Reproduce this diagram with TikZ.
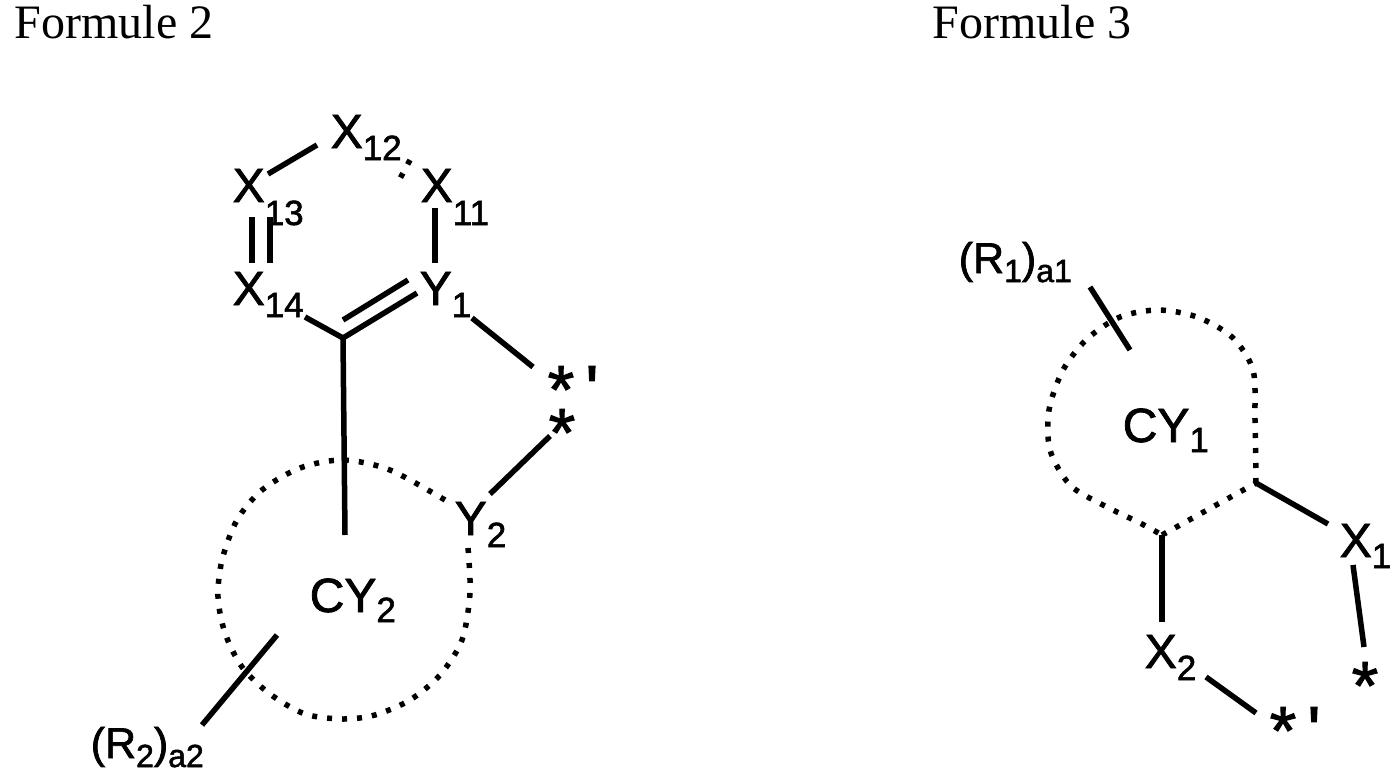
\documentclass[tikz,border=0pt]{standalone}
\usepackage{fontspec}
\setmainfont[AutoFakeBold=1.6]{Liberation Sans}
\newfontfamily\titlefont{Liberation Serif}
\usetikzlibrary{positioning}
\newcommand{\sbs}[2][12pt]{\raisebox{-#1}{\fontsize{35}{36}\selectfont #2}}
\newcommand{\rsbs}[1]{\raisebox{-9pt}{\fontsize{32}{33}\selectfont #1}}

\begin{document}
\begin{tikzpicture} [x = 1pt, y = -1pt, line width = 5.5pt,
  atom/.style = {inner sep = 0pt, anchor = base west, font = \bfseries\fontsize{48}{50}\selectfont},
  grp/.style = {inner sep = 0pt, anchor = base west, font = \bfseries\fontsize{43}{45}\selectfont},
  star/.style = {inner sep = 0pt, anchor = base west, font = \bfseries\fontsize{68}{70}\selectfont},
  ring/.style = {line width = 5.5pt, dash pattern = on 5pt off 10pt},
  title/.style = {inner sep = 0pt, anchor = base west, font = \titlefont\fontsize{48}{50}\selectfont}]

\useasboundingbox (0,0) rectangle (1394,768);

\node [title] (f2) at (12,38) {Formule 2};
\node [title] (f3) at (930,38) {Formule 3};

% formule 2
\node [atom] (x12) at (328,148) {X\sbs{12}};
\node [atom] (x13) at (230,202) {X\sbs[23pt]{13}};
\node [atom] (x11) at (418,202) {X\sbs[23pt]{11}};
\node [atom] (x14) at (230,305) {X\sbs{14}};
\node [atom] (y1) at (417,305) {Y\sbs{1}};
\node [atom] (y2) at (452,535) {Y\sbs{2}};
\node [atom] (cy2) at (307,612) {CY\sbs[10pt]{2}};
\node [star] (s2p) at (545,413) {*\,\textquotesingle};
\node [star] (s2) at (546,456) {*};
\node [grp] (r2) at (88,758) {(R\rsbs{2})\rsbs{a2}};

\coordinate (c14) at (343,338);
\draw (268,174) -- (317,145);
\draw [ring] (410,160) -- (396,186);
\draw (252,217) -- (252,263);
\draw (270,217) -- (270,263);
\draw (435,208) -- (435,263);
\draw (305,317) -- (c14);
\draw (c14) -- (417,293);
\draw (343,320) -- (408,280);
\draw (c14) -- (345,535);
\draw (472,318) -- (533,367);
\draw (490,494) -- (550,436);
\draw [ring] plot [smooth] coordinates {(468,548) (470,593) (462,640) (440,675) (410,700)
  (375,715) (343,719) (305,714) (270,694) (242,667) (225,633) (218,597) (222,560)
  (237,520) (262,490) (300,468) (343,460) (390,470) (445,500)};
\draw (202,725) -- (277,635);

% formule 3
\node [grp] (r1) at (956,273) {(R\rsbs{1})\rsbs{a1}};
\node [atom] (cy1) at (1120,442) {CY\sbs[10pt]{1}};
\node [atom] (x1) at (1337,557) {X\sbs[11pt]{1}};
\node [atom] (x2) at (1142,668) {X\sbs{2}};
\node [star] (s3) at (1349,709) {*};
\node [star] (s3p) at (1267,754) {*\,\textquotesingle};

\coordinate (rv) at (1256,483);
\coordinate (bv) at (1162,535);
\draw [ring] plot [smooth] coordinates {(rv) (1255,420) (1253,370) (1232,337) (1197,317)
  (1158,310) (1120,317) (1087,339) (1063,370) (1049,410) (1050,450) (1070,485)
  (1103,505) (1140,523) (bv)};
\draw [ring] (bv) -- (rv);
\draw (1090,287) -- (1130,350);
\draw (rv) -- (1328,524);
\draw (1353,565) -- (1364,647);
\draw (bv) -- (1162,622);
\draw (1206,677) -- (1256,713);

\end{tikzpicture}
\end{document}
